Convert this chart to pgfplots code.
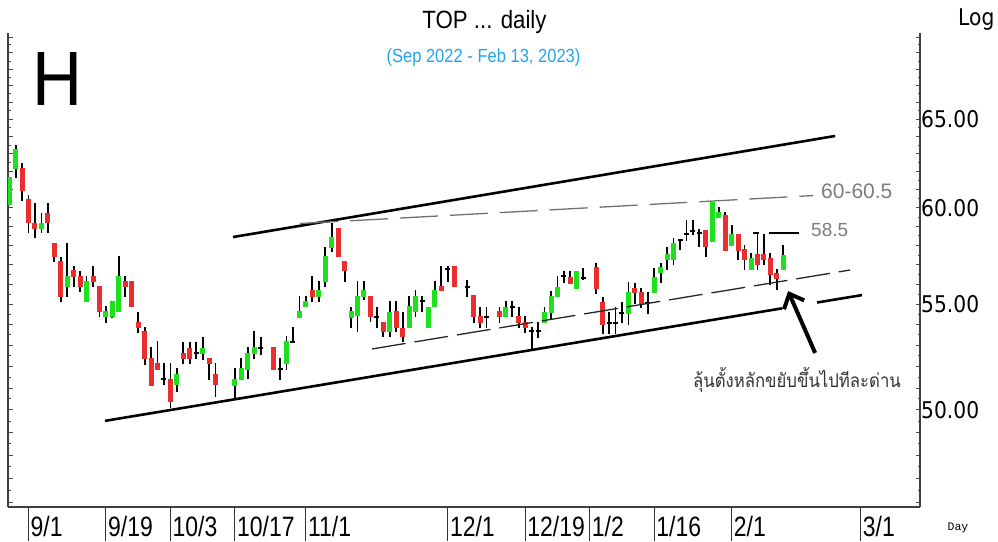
\documentclass[border=0pt]{standalone}
\usepackage{pgfplots}
\usepackage{pgfplotstable}
\pgfplotsset{compat=1.18}
\usetikzlibrary{arrows.meta}
\usepackage{fontspec}
\setmainfont{Liberation Sans}
\newfontfamily\tickfont[FakeStretch=0.82]{Liberation Sans}
\newfontfamily\rfont[FakeStretch=0.88]{DejaVu Sans}
\newfontfamily\titlefont[FakeStretch=0.89]{Liberation Sans}
\newfontfamily\subfont[FakeStretch=0.87]{Liberation Sans}
\newfontfamily\Hfont[FakeStretch=0.9]{Liberation Sans}
\newfontfamily\thaifont[Script=Thai,FakeStretch=0.88]{Loma}
\newfontfamily\dayfont{Liberation Mono}
\definecolor{candlegreen}{RGB}{30,225,30}
\definecolor{candlered}{RGB}{235,45,45}
\definecolor{subblue}{RGB}{35,165,235}
\definecolor{lblgray}{RGB}{125,125,125}

% x = weekday index from 1 Sep 2022 (Thai holidays left empty); t: 1 up, -1 down, 0 doji
\pgfplotstableread{
x o h l c t
-3 60.15 61.70 60.15 61.70 1
-2 62.12 63.50 61.63 63.25 1
-1 62.18 62.46 60.38 60.92 -1
0 60.46 60.70 58.64 59.17 -1
1 59.20 60.24 58.37 58.86 -1
2 58.86 59.72 58.66 59.20 1
3 59.70 60.24 58.64 59.17 -1
4 58.14 58.14 57.15 57.41 -1
5 57.19 57.41 55.13 55.38 -1
6 55.85 58.14 55.38 56.44 1
7 56.73 56.93 55.88 56.39 -1
8 56.44 56.69 55.63 55.85 -1
9 55.10 56.44 55.10 56.17 1
10 56.44 56.93 55.88 56.10 -1
11 55.91 55.91 54.36 54.61 -1
12 54.36 54.92 54.10 54.67 1
13 54.36 55.17 54.31 55.17 1
14 54.61 57.45 54.61 56.44 1
15 56.17 56.44 55.38 55.85 -1
16 56.17 56.17 54.85 54.85 -1
17 54.14 54.64 53.58 53.82 -1
18 53.69 53.90 52.07 52.34 -1
19 52.42 52.91 51.11 51.11 -1
20 52.15 53.21 51.84 51.84 -1
21 51.45 52.15 51.14 51.35 0
22 51.40 52.15 50.08 50.35 -1
23 51.12 51.92 50.80 51.65 1
24 52.64 53.18 52.10 52.34 -1
25 52.89 53.18 52.10 52.34 -1
26 52.68 53.18 52.33 52.58 0
27 52.58 53.42 52.31 52.89 1
28 52.39 52.39 51.37 52.12 -1
29 51.65 52.15 50.60 51.12 -1
32 51.11 51.92 50.53 51.42 1
33 51.37 52.39 51.37 51.92 1
34 51.84 52.91 51.40 52.65 1
35 52.58 53.69 52.34 52.92 1
36 52.93 53.40 52.54 52.83 0
38 52.91 52.91 51.84 51.84 -1
39 51.94 52.39 51.37 51.84 0
40 52.10 53.45 51.84 53.21 1
41 53.23 53.90 53.10 53.13 0
42 54.35 55.41 54.35 54.67 1
43 54.85 55.41 54.85 55.16 1
44 55.71 56.42 55.13 55.38 -1
45 55.38 56.17 55.13 55.71 1
46 56.13 57.93 55.85 57.45 1
47 57.88 59.20 57.64 58.43 1
48 58.93 58.93 57.38 57.38 -1
49 57.19 57.19 56.13 56.68 -1
50 54.35 54.89 53.84 54.67 1
51 54.40 56.17 53.62 55.41 1
52 55.38 56.17 55.21 55.71 1
53 55.41 55.41 54.12 54.36 -1
54 54.44 54.89 53.84 54.34 0
55 54.14 54.14 53.39 53.63 -1
56 53.63 55.16 53.39 54.64 1
57 54.67 55.16 53.63 53.85 -1
58 53.85 54.64 53.15 53.39 -1
59 53.85 55.41 53.85 54.92 1
60 54.64 55.71 54.39 55.41 1
61 55.22 55.41 54.64 55.12 0
62 53.85 54.89 53.85 54.89 1
63 54.89 56.17 54.89 55.71 1
64 55.91 56.93 55.66 55.66 -1
65 56.83 56.93 56.12 56.73 0
66 56.93 56.93 55.85 55.85 -1
68 55.93 56.22 55.38 55.83 0
69 55.46 55.46 54.10 54.36 -1
70 54.40 54.89 53.82 54.10 -1
71 54.41 54.89 53.82 54.31 0
73 54.67 54.89 54.10 54.36 -1
74 54.36 55.16 54.36 54.89 1
75 54.93 55.16 54.36 54.83 0
76 54.40 54.89 53.82 54.10 -1
77 54.14 54.40 53.58 53.82 -1
78 53.74 53.87 52.83 53.64 0
79 53.74 54.14 53.34 53.64 0
80 54.07 54.89 54.07 54.64 1
81 54.55 55.68 54.27 55.41 1
82 55.35 56.42 55.35 55.88 1
83 56.47 56.69 56.05 56.37 0
84 56.39 56.69 56.02 56.02 -1
85 55.75 56.69 55.75 56.69 1
86 56.35 56.81 56.22 56.25 0
88 56.86 57.10 55.51 55.75 -1
89 55.13 55.38 53.53 53.98 -1
90 54.13 54.62 53.55 54.03 0
91 54.13 54.89 53.55 54.03 0
92 54.60 55.13 54.06 54.50 0
93 54.52 56.13 53.98 55.63 1
94 55.83 56.05 55.04 55.55 -1
95 55.63 55.83 54.80 55.04 -1
96 55.12 55.63 54.52 55.02 0
97 55.55 56.81 55.55 56.36 1
98 56.56 57.10 56.05 56.86 1
99 57.27 57.93 56.73 57.55 1
100 57.27 58.37 56.98 58.11 1
101 58.33 58.36 57.76 58.23 0
102 58.64 59.34 58.24 58.54 0
103 58.83 59.34 58.55 58.73 0
104 58.72 58.85 57.93 58.62 0
105 58.81 58.81 57.41 57.93 -1
106 58.19 60.33 58.19 60.33 1
107 59.47 60.06 59.47 59.78 1
108 59.61 59.78 57.72 57.72 -1
109 57.97 59.08 57.97 58.59 1
110 58.59 58.59 57.24 57.72 -1
111 57.80 58.02 56.73 57.24 -1
112 56.73 57.59 56.73 57.33 1
113 57.55 58.59 56.73 56.98 -1
114 57.55 58.59 56.98 57.24 -1
115 57.33 57.59 55.97 56.47 -1
116 56.56 56.78 55.71 56.25 -1
117 56.73 58.02 56.73 57.50 1
}\candles

\begin{document}
\begin{tikzpicture}
\useasboundingbox (0pt,0pt) rectangle (998pt,-541pt);
\begin{axis}[
  at={(8pt,-507pt)}, anchor=south west,
  scale only axis, width=912pt, height=474pt,
  xmin=-3.18, xmax=138.2,
  ymode=log, ymin=45.81, ymax=70.26,
  axis x line*=bottom, axis y line*=box,
  axis line style={draw=black!75, line width=1.5pt},
  xtick={0,12,22,32,43,65,77,87,97,109,129},
  xticklabels={9/1,9/19,10/3,10/17,11/1,12/1,12/19,1/2,1/16,2/1,3/1},
  x tick style={draw=none},
  xticklabel style={anchor=north west, inner sep=0pt, xshift=2pt, yshift=-9pt, font=\tickfont\fontsize{28}{28}\selectfont},
  ytick={46,47,...,70},
  yticklabels={,,,,50.00,,,,,55.00,,,,,60.00,,,,,65.00,,,,,},
  minor ytick={45.5,46.5,...,69.5},
  ytick pos=both, yticklabel pos=right,
  yticklabel style={anchor=west, inner sep=0pt, xshift=1pt, font=\rfont\fontsize{23}{23}\selectfont},
  tick align=inside,
  major tick length=4.5pt, minor tick length=2.5pt,
  y tick style={black!70, line width=1pt},
  clip mode=individual,
]
\pgfplotstablegetrowsof{\candles}
\pgfmathtruncatemacro{\nrows}{\pgfplotsretval-1}
\pgfplotsforeachungrouped \r in {0,...,\nrows}{%
  \pgfplotstablegetelem{\r}{x}\of\candles\let\cx\pgfplotsretval
  \pgfplotstablegetelem{\r}{o}\of\candles\let\co\pgfplotsretval
  \pgfplotstablegetelem{\r}{h}\of\candles\let\ch\pgfplotsretval
  \pgfplotstablegetelem{\r}{l}\of\candles\let\cl\pgfplotsretval
  \pgfplotstablegetelem{\r}{c}\of\candles\let\cc\pgfplotsretval
  \pgfplotstablegetelem{\r}{t}\of\candles\let\ct\pgfplotsretval
  \ifnum\ct>0 \def\bcol{candlegreen}\else\ifnum\ct<0 \def\bcol{candlered}\else\def\bcol{black}\fi\fi
  \edef\doit{%
    \noexpand\addplot[draw=black, line width=1.8pt, forget plot] coordinates {(\cx,\cl) (\cx,\ch)};
    \noexpand\addplot[draw=\bcol, line width=5pt, forget plot] coordinates {(\cx,\co) (\cx,\cc)};}%
  \doit
}
% channel lines
\addplot[black, line width=2.6pt, forget plot] coordinates {(31.7,58.44) (125.04,64.02)};
\addplot[black, line width=2.6pt, forget plot] coordinates {(11.86,49.51) (116.82,54.80)};
\addplot[black, line width=2.6pt, forget plot] coordinates {(122.25,55.09) (129.22,55.46)};
% dashed lines
\addplot[lblgray!90!black, line width=1.3pt, dash pattern=on 38pt off 12pt, forget plot] coordinates {(42.09,59.16) (121.63,60.67)};
\addplot[black!85, line width=1.3pt, dash pattern=on 34pt off 9pt, forget plot] coordinates {(53.26,52.83) (127.36,56.73)};
\addplot[black, line width=2.5pt, dash pattern=on 6pt off 10pt on 40pt off 0pt, forget plot] coordinates {(112.33,58.65) (119.46,58.65)};
% arrow
\addplot[black, line width=4pt, -{Straight Barb[length=12pt,width=22pt]}, forget plot] coordinates {(121.94,52.64) (117.75,55.66)};
% separators below axis
\pgfplotsinvokeforeach{0,12,22,32,43,65,77,87,97,109,129}{%
  \draw[black!80, line width=1pt] (axis cs:#1,45.81) -- ++(0pt,-34pt);}
\end{axis}
\node[anchor=base, inner sep=0pt] at (484.5pt,-28pt) {\titlefont\fontsize{25}{25}\selectfont TOP ... daily};
\node[anchor=base, inner sep=0pt, text=subblue] at (483.5pt,-62pt) {\subfont\fontsize{19}{19}\selectfont (Sep 2022 - Feb 13, 2023)};
\node[anchor=base west, inner sep=0pt] at (32pt,-105pt) {\Hfont\fontsize{77}{77}\selectfont H};
\node[anchor=base west, inner sep=0pt] at (958pt,-25pt) {\rfont\fontsize{23}{23}\selectfont Log};
\node[inner sep=0pt] at (958pt,-528pt) {\dayfont\fontsize{11.5}{11.5}\selectfont Day};
\node[anchor=base west, inner sep=0pt, text=lblgray] at (821pt,-198pt) {\fontsize{21}{21}\selectfont 60-60.5};
\node[anchor=base west, inner sep=0pt, text=lblgray] at (811pt,-236pt) {\fontsize{19}{19}\selectfont 58.5};
\node[anchor=base, inner sep=0pt, text=black!80] at (797pt,-387pt) {\thaifont\fontsize{19}{19}\selectfont ลุ้นตั้งหลักขยับขึ้นไปทีละด่าน};
\end{tikzpicture}
\end{document}
